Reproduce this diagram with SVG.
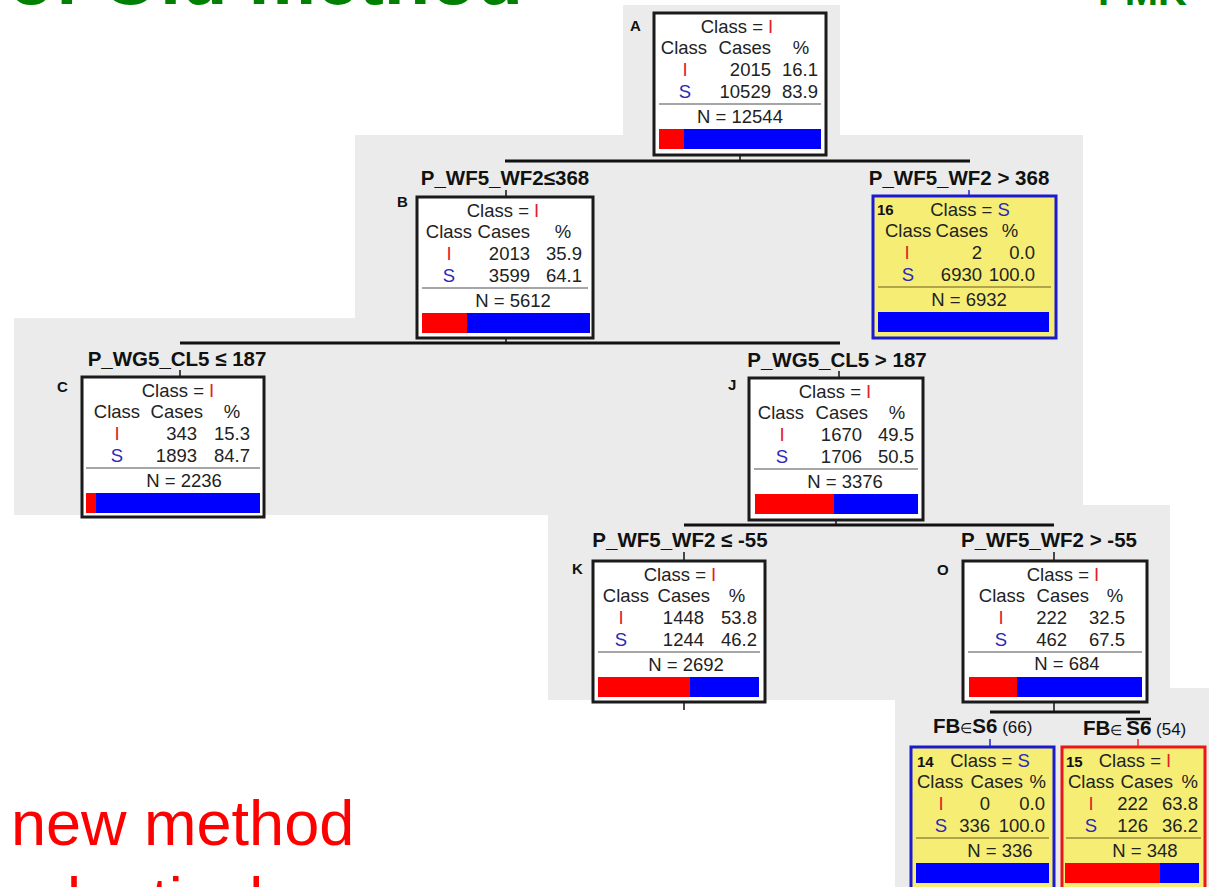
<svg xmlns="http://www.w3.org/2000/svg" width="1209" height="887" viewBox="0 0 1209 887">
<style>
.bg{fill:#ebebeb}
.box{fill:#fff;stroke:#1a1a1a;stroke-width:3}
.ybox{fill:#f6ee74;stroke-width:3}
.t{font-family:"Liberation Sans",Arial,sans-serif;font-size:18.5px;fill:#222}
.m{text-anchor:middle}
.e{text-anchor:end}
.lab{font-family:"Liberation Sans",Arial,sans-serif;font-size:20.5px;font-weight:bold;fill:#111;text-anchor:middle}
.ltr{font-family:"Liberation Sans",Arial,sans-serif;font-size:15px;font-weight:bold;fill:#111}
.r{fill:#e0202a}
.b{fill:#2a2ab8}
.sep{stroke:#888;stroke-width:1.5}
.ysep{stroke:#9a8a3a;stroke-width:1.5}
.conn{stroke:#111;stroke-width:3;fill:none}
.tick{stroke:#111;stroke-width:1.5}
.red{fill:#f00}
.blue{fill:#00f}
</style>
<polygon class="bg" points="623,5 840,5 840,135 1083,135 1083,505 1170,505 1170,688 1209,688 1209,887 895,887 895,700 548,700 548,515 14,515 14,318 355,318 355,135 623,135"/>
<text x="8" y="4" style="font-family:'Liberation Sans',Arial,sans-serif;font-size:76px;font-weight:bold;fill:#008000">of Old method</text>
<text x="1098" y="5" style="font-family:'Liberation Sans',Arial,sans-serif;font-size:40px;font-weight:bold;fill:#008000">PMK</text>
<text x="11" y="845" style="font-family:'Liberation Sans',Arial,sans-serif;font-size:63px;fill:#f00">new method</text>
<text x="11" y="922" style="font-family:'Liberation Sans',Arial,sans-serif;font-size:63px;fill:#f00">adaptively</text>

<g id="connectors">
<line class="tick" x1="740" y1="155" x2="740" y2="161"/>
<line class="conn" x1="505" y1="161" x2="970" y2="161"/>
<line class="tick" x1="506" y1="190" x2="506" y2="197"/>
<line class="tick" x1="969" y1="190" x2="969" y2="196" style="stroke:#22c"/>
<line class="tick" x1="506" y1="338" x2="506" y2="343"/>
<line class="conn" x1="180" y1="343" x2="840" y2="343"/>
<line class="tick" x1="180" y1="370" x2="180" y2="377"/>
<line class="tick" x1="839" y1="371" x2="839" y2="378"/>
<line class="tick" x1="836" y1="520" x2="836" y2="525"/>
<line class="conn" x1="684" y1="525" x2="1054" y2="525"/>
<line class="tick" x1="684" y1="552" x2="684" y2="561"/>
<line class="tick" x1="1054" y1="552" x2="1054" y2="561"/>
<line class="tick" x1="684" y1="702" x2="684" y2="710"/>
<line class="tick" x1="1054" y1="702" x2="1054" y2="712"/>
<line class="conn" x1="990" y1="712" x2="1140" y2="712"/>
<line class="tick" x1="990" y1="739" x2="990" y2="747" style="stroke:#22c"/>
<line class="tick" x1="1138" y1="739" x2="1138" y2="747" style="stroke:#e22"/>
<text class="lab" x="505" y="185">P_WF5_WF2≤368</text>
<text class="lab" x="959" y="185">P_WF5_WF2 &gt; 368</text>
<text class="lab" x="177" y="366">P_WG5_CL5 ≤ 187</text>
<text class="lab" x="837" y="367">P_WG5_CL5 &gt; 187</text>
<text class="lab" x="680" y="547">P_WF5_WF2 ≤ -55</text>
<text class="lab" x="1049" y="547">P_WF5_WF2 &gt; -55</text>
<text class="lab" x="933" y="733" style="text-anchor:start">FB<tspan style="font-size:14px;font-weight:normal">∈</tspan>S6<tspan style="font-size:17px;font-weight:normal"> (66)</tspan></text>
<text class="lab" x="1083" y="735" style="text-anchor:start">FB<tspan style="font-size:14px;font-weight:normal">∈ </tspan>S6<tspan style="font-size:17px;font-weight:normal"> (54)</tspan></text>
<line x1="1126" y1="719" x2="1151" y2="719" stroke="#111" stroke-width="2.5"/>
</g>

<g id="nodeA">
<text class="ltr" x="630" y="31">A</text>
<rect class="box" x="654" y="13" width="172" height="142"/>
<text class="t m" x="737" y="33">Class = <tspan class="r">I</tspan></text>
<text class="t m" x="684" y="54">Class</text>
<text class="t e" x="771" y="54">Cases</text>
<text class="t m" x="801" y="54">%</text>
<text class="t m r" x="685" y="76">I</text>
<text class="t e" x="771" y="76">2015</text>
<text class="t e" x="818" y="76">16.1</text>
<text class="t m b" x="685" y="98">S</text>
<text class="t e" x="771" y="98">10529</text>
<text class="t e" x="818" y="98">83.9</text>
<line class="sep" x1="659" y1="104" x2="821" y2="104"/>
<text class="t m" x="740" y="123">N = 12544</text>
<rect class="red" x="659" y="129" width="25" height="20"/>
<rect class="blue" x="684" y="129" width="137" height="20"/>
</g>

<g id="nodeB">
<text class="ltr" x="397" y="207">B</text>
<rect class="box" x="417" y="197" width="176" height="141"/>
<text class="t m" x="503" y="217">Class = <tspan class="r">I</tspan></text>
<text class="t m" x="449" y="238">Class</text>
<text class="t e" x="530" y="238">Cases</text>
<text class="t m" x="563" y="238">%</text>
<text class="t m r" x="449" y="260">I</text>
<text class="t e" x="530" y="260">2013</text>
<text class="t e" x="582" y="260">35.9</text>
<text class="t m b" x="449" y="282">S</text>
<text class="t e" x="530" y="282">3599</text>
<text class="t e" x="582" y="282">64.1</text>
<line class="sep" x1="422" y1="288" x2="588" y2="288"/>
<text class="t m" x="513" y="307">N = 5612</text>
<rect class="red" x="422" y="313" width="45" height="20"/>
<rect class="blue" x="467" y="313" width="123" height="20"/>
</g>

<g id="node16">
<rect class="ybox" x="873" y="196" width="183" height="142" stroke="#1a1ad0"/>
<text class="ltr" x="877" y="215">16</text>
<text class="t m" x="970" y="216">Class = <tspan class="b">S</tspan></text>
<text class="t" x="885" y="237">Class</text>
<text class="t e" x="988" y="237">Cases</text>
<text class="t m" x="1010" y="237">%</text>
<text class="t m r" x="907" y="259">I</text>
<text class="t e" x="982" y="259">2</text>
<text class="t e" x="1035" y="259">0.0</text>
<text class="t m b" x="908" y="281">S</text>
<text class="t e" x="982" y="281">6930</text>
<text class="t e" x="1035" y="281">100.0</text>
<line class="ysep" x1="878" y1="287" x2="1051" y2="287"/>
<text class="t m" x="969" y="306">N = 6932</text>
<rect class="blue" x="878" y="312" width="171" height="20"/>
</g>

<g id="nodeC">
<text class="ltr" x="57" y="392">C</text>
<rect class="box" x="82" y="377" width="182" height="140"/>
<text class="t m" x="178" y="397">Class = <tspan class="r">I</tspan></text>
<text class="t m" x="117" y="418">Class</text>
<text class="t e" x="203" y="418">Cases</text>
<text class="t m" x="232" y="418">%</text>
<text class="t m r" x="117" y="440">I</text>
<text class="t e" x="197" y="440">343</text>
<text class="t e" x="250" y="440">15.3</text>
<text class="t m b" x="117" y="462">S</text>
<text class="t e" x="197" y="462">1893</text>
<text class="t e" x="250" y="462">84.7</text>
<line class="sep" x1="86" y1="468" x2="260" y2="468"/>
<text class="t m" x="184" y="487">N = 2236</text>
<rect class="red" x="86" y="493" width="10" height="20"/>
<rect class="blue" x="96" y="493" width="164" height="20"/>
</g>

<g id="nodeJ">
<text class="ltr" x="728" y="390">J</text>
<rect class="box" x="749" y="378" width="174" height="142"/>
<text class="t m" x="835" y="398">Class = <tspan class="r">I</tspan></text>
<text class="t m" x="781" y="419">Class</text>
<text class="t e" x="868" y="419">Cases</text>
<text class="t m" x="897" y="419">%</text>
<text class="t m r" x="782" y="441">I</text>
<text class="t e" x="862" y="441">1670</text>
<text class="t e" x="914" y="441">49.5</text>
<text class="t m b" x="782" y="463">S</text>
<text class="t e" x="862" y="463">1706</text>
<text class="t e" x="914" y="463">50.5</text>
<line class="sep" x1="754" y1="469" x2="918" y2="469"/>
<text class="t m" x="845" y="488">N = 3376</text>
<rect class="red" x="755" y="494" width="79" height="20"/>
<rect class="blue" x="834" y="494" width="84" height="20"/>
</g>

<g id="nodeK">
<text class="ltr" x="572" y="574">K</text>
<rect class="box" x="593" y="561" width="172" height="141"/>
<text class="t m" x="680" y="581">Class = <tspan class="r">I</tspan></text>
<text class="t m" x="626" y="602">Class</text>
<text class="t e" x="710" y="602">Cases</text>
<text class="t m" x="737" y="602">%</text>
<text class="t m r" x="621" y="624">I</text>
<text class="t e" x="704" y="624">1448</text>
<text class="t e" x="757" y="624">53.8</text>
<text class="t m b" x="621" y="646">S</text>
<text class="t e" x="704" y="646">1244</text>
<text class="t e" x="757" y="646">46.2</text>
<line class="sep" x1="598" y1="652" x2="760" y2="652"/>
<text class="t m" x="686" y="671">N = 2692</text>
<rect class="red" x="598" y="677" width="92" height="20"/>
<rect class="blue" x="690" y="677" width="69" height="20"/>
</g>

<g id="nodeO">
<text class="ltr" x="937" y="575">O</text>
<rect class="box" x="963" y="561" width="184" height="141"/>
<text class="t m" x="1063" y="581">Class = <tspan class="r">I</tspan></text>
<text class="t m" x="1002" y="602">Class</text>
<text class="t e" x="1089" y="602">Cases</text>
<text class="t m" x="1115" y="602">%</text>
<text class="t m r" x="1001" y="624">I</text>
<text class="t e" x="1067" y="624">222</text>
<text class="t e" x="1125" y="624">32.5</text>
<text class="t m b" x="1001" y="646">S</text>
<text class="t e" x="1067" y="646">462</text>
<text class="t e" x="1125" y="646">67.5</text>
<line class="sep" x1="968" y1="652" x2="1142" y2="652"/>
<text class="t m" x="1067" y="670">N = 684</text>
<rect class="red" x="969" y="677" width="48" height="20"/>
<rect class="blue" x="1017" y="677" width="125" height="20"/>
</g>

<g id="node14">
<rect class="ybox" x="911" y="747" width="143" height="142" stroke="#1a1ad0"/>
<text class="ltr" x="917" y="767">14</text>
<text class="t m" x="990" y="767">Class = <tspan class="b">S</tspan></text>
<text class="t" x="917" y="788">Class</text>
<text class="t e" x="1023" y="788">Cases</text>
<text class="t e" x="1046" y="788">%</text>
<text class="t m r" x="941" y="810">I</text>
<text class="t e" x="990" y="810">0</text>
<text class="t e" x="1045" y="810">0.0</text>
<text class="t m b" x="941" y="832">S</text>
<text class="t e" x="990" y="832">336</text>
<text class="t e" x="1045" y="832">100.0</text>
<line class="ysep" x1="916" y1="838" x2="1049" y2="838"/>
<text class="t m" x="1000" y="857">N = 336</text>
<rect class="blue" x="916" y="863" width="133" height="20"/>
</g>

<g id="node15">
<rect class="ybox" x="1062" y="747" width="143" height="142" stroke="#e81818"/>
<text class="ltr" x="1066" y="767">15</text>
<text class="t m" x="1135" y="767">Class = <tspan class="r">I</tspan></text>
<text class="t" x="1068" y="788">Class</text>
<text class="t e" x="1173" y="788">Cases</text>
<text class="t e" x="1198" y="788">%</text>
<text class="t m r" x="1091" y="810">I</text>
<text class="t e" x="1148" y="810">222</text>
<text class="t e" x="1198" y="810">63.8</text>
<text class="t m b" x="1091" y="832">S</text>
<text class="t e" x="1148" y="832">126</text>
<text class="t e" x="1198" y="832">36.2</text>
<line class="ysep" x1="1066" y1="838" x2="1201" y2="838"/>
<text class="t m" x="1145" y="857">N = 348</text>
<rect class="red" x="1065" y="863" width="95" height="20"/>
<rect class="blue" x="1160" y="863" width="39" height="20"/>
</g>
</svg>
